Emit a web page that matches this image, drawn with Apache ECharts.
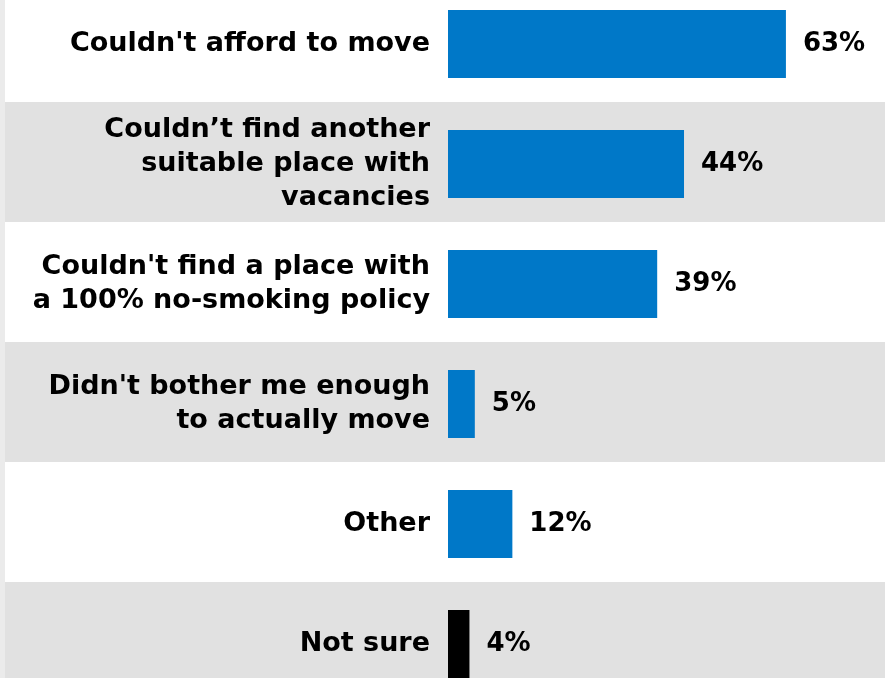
<!DOCTYPE html>
<html>
<head>
<meta charset="utf-8">
<script src="https://cdn.jsdelivr.net/npm/echarts@6/dist/echarts.min.js"></script>
<style>html,body{margin:0;padding:0;background:#EBEBEB}#c{width:885px;height:678px}</style>
</head>
<body>
<div id="c"></div>
<script>
const categories = [
  "Couldn't afford to move",
  "Couldn\u2019t find another\nsuitable place with\nvacancies",
  "Couldn't find a place with\na 100% no-smoking policy",
  "Didn't bother me enough\nto actually move",
  "Other",
  "Not sure"
];
const values = [63, 44, 39, 5, 12, 4];
const highlightCategory = "Not sure";

const FONT = "DejaVu Sans";
const chart = echarts.init(document.getElementById('c'), null, {renderer: 'canvas'});
chart.setOption({
  backgroundColor: '#EBEBEB',
  animation: false,
  grid: [
    {left: 448, right: 0, top: -16, height: 720, containLabel: false, outerBoundsMode: 'none', z: 2},
    {left: 5, right: 0, top: -18, height: 720, containLabel: false, outerBoundsMode: 'none', z: 0}
  ],
  xAxis: [{
    gridIndex: 0, type: 'value', min: 0, max: 81.47, show: false,
    splitLine: {show: false}
  }, {
    gridIndex: 1, type: 'value', min: 0, max: 100, show: false,
    splitLine: {show: false}
  }],
  yAxis: [{
    gridIndex: 0, type: 'category', data: categories, inverse: true, z: 3,
    axisLine: {show: false},
    axisTick: {show: false},
    axisLabel: {
      margin: 18, color: '#000', fontFamily: FONT, fontWeight: 'bold',
      fontSize: 27, lineHeight: 34, align: 'right'
    },
    splitArea: {show: false}
  }, {
    gridIndex: 1, type: 'category', data: categories, inverse: true, z: 0,
    axisLine: {show: false},
    axisTick: {show: false},
    axisLabel: {show: false},
    splitArea: {show: true, areaStyle: {color: ['#FFFFFF', '#E1E1E1']}}
  }],
  series: [{
    type: 'bar',
    data: values,
    xAxisIndex: 0,
    yAxisIndex: 0,
    barWidth: 68,
    itemStyle: {
      color: function (p) { return categories[p.dataIndex] === highlightCategory ? '#000000' : '#0078C8'; }
    },
    label: {
      show: true, position: 'right', distance: 17, formatter: '{c}%',
      color: '#000', fontFamily: FONT, fontWeight: 'bold', fontSize: 26
    }
  }]
});
</script>
</body>
</html>
